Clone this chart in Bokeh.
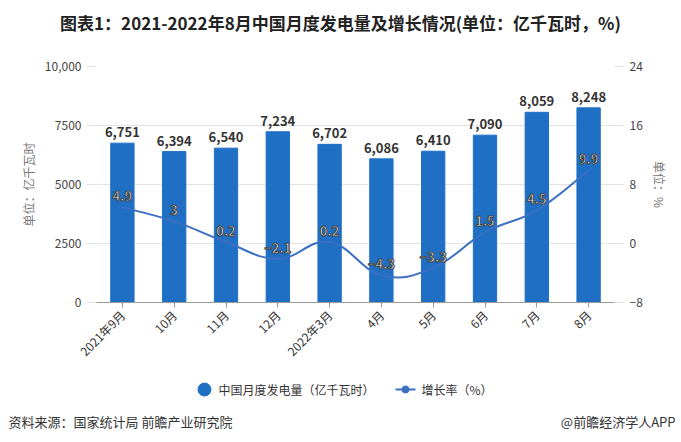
from bokeh.plotting import figure
from bokeh.models import (Range1d, LinearAxis, FixedTicker, ColumnDataSource)
from bokeh.core.properties import value
from bokeh.embed import file_html
from bokeh.resources import INLINE
import math

categories = ["2021年9月", "10月", "11月", "12月", "2022年3月", "4月", "5月", "6月", "7月", "8月"]
power = [6751, 6394, 6540, 7234, 6702, 6086, 6410, 7090, 8059, 8248]
growth = [4.9, 3, 0.2, -2.1, 0.2, -4.3, -3.3, 1.5, 4.5, 9.9]
left_ticks = [0, 2500, 5000, 7500, 10000]
right_ticks = [-8, 0, 8, 16, 24]
title_text = "图表1：2021-2022年8月中国月度发电量及增长情况(单位：亿千瓦时，%)"
legend_labels = ["中国月度发电量（亿千瓦时）", "增长率（%）"]
source_text = "资料来源：国家统计局 前瞻产业研究院"
brand_text = "@前瞻经济学人APP"

FONT = "Noto Sans CJK SC"
BAR = "#1f6fc5"
LINE = "#3b6fc2"
W = 681
H_TOP, H_MAIN, H_BOT = 44, 326, 72


def blank(h):
    f = figure(width=W, height=h, output_backend="svg", toolbar_location=None,
               x_range=Range1d(0, W), y_range=Range1d(h, 0),
               x_axis_type=None, y_axis_type=None,
               min_border=0, min_border_left=0, min_border_right=0,
               min_border_top=0, min_border_bottom=0)
    f.outline_line_color = None
    f.grid.visible = False
    return f


# ---- title strip
top = blank(H_TOP)
top.text(x=[340], y=[22], text=[title_text], text_align="center", text_baseline="middle",
         text_font=value(FONT), text_font_style="bold", text_font_size="17px", text_color="#222222")

# ---- main chart
p = figure(width=W, height=H_MAIN, output_backend="svg", toolbar_location=None,
           x_range=Range1d(-0.5, len(categories) - 0.5), y_range=Range1d(0, 10000),
           min_border_left=96, min_border_right=67, min_border_top=66 - H_TOP,
           min_border_bottom=H_TOP + H_MAIN - 302)
p.outline_line_color = None
p.extra_y_ranges = {"pct": Range1d(-8, 24)}

xs = list(range(len(categories)))
src = ColumnDataSource(dict(x=xs, power=power, growth=growth,
                            plab=[f"{v:,}" for v in power],
                            glab=[(f"{g:g}" if g >= 0 else "\u2212" + f"{-g:g}") for g in growth]))

p.vbar(x="x", top="power", width=0.45, color=BAR, source=src)

# smooth line via bezier segments through the data points
x0, y0, x1, y1, cx0, cy0, cx1, cy1 = [], [], [], [], [], [], [], []
s = 0.2
n = len(growth)
for i in range(n - 1):
    ya = growth[i - 1] if i > 0 else growth[i]
    yd = growth[i + 2] if i + 2 < n else growth[i + 1]
    x0.append(i); y0.append(growth[i]); x1.append(i + 1); y1.append(growth[i + 1])
    cx0.append(i + s * (2 if i > 0 else 1)); cy0.append(growth[i] + s * (growth[i + 1] - ya))
    cx1.append(i + 1 - s * (2 if i + 2 < n else 1)); cy1.append(growth[i + 1] - s * (yd - growth[i]))
p.bezier(x0=x0, y0=y0, x1=x1, y1=y1, cx0=cx0, cy0=cy0, cx1=cx1, cy1=cy1,
         line_color=LINE, line_width=2, y_range_name="pct")

p.text(x="x", y="power", text="plab", source=src, y_offset=-6, text_align="center",
       text_baseline="bottom", text_font=value(FONT), text_font_style="bold",
       text_font_size="13px", text_color="#333333")
p.text(x="x", y="growth", text="glab", source=src, y_offset=-11, text_align="center",
       text_baseline="middle", text_font=value(FONT), text_font_style="bold",
       text_font_size="13px", text_color="white", text_outline_color="#444444",
       y_range_name="pct")

p.xaxis.ticker = FixedTicker(ticks=xs)
p.xaxis.major_label_overrides = {i: c for i, c in enumerate(categories)}
p.xaxis.major_label_orientation = math.pi / 4
p.xaxis.axis_line_color = "#999999"
p.xaxis.major_tick_line_color = "#999999"
p.xaxis.major_tick_out = 5
p.xaxis.major_tick_in = 0
p.xaxis.minor_tick_line_color = None
p.xaxis.major_label_text_font = FONT
p.xaxis.major_label_text_font_size = "12px"
p.xaxis.major_label_text_color = "#333333"

p.yaxis.ticker = FixedTicker(ticks=left_ticks)
p.yaxis.major_label_overrides = {10000: "10,000"}
p.yaxis.axis_line_color = None
p.yaxis.major_tick_line_color = "#e3e3e3"
p.yaxis.major_tick_out = 10
p.yaxis.major_tick_in = 0
p.yaxis.minor_tick_line_color = None
p.yaxis.major_label_text_font = FONT
p.yaxis.major_label_text_font_size = "12px"
p.yaxis.major_label_text_color = "#444444"
p.yaxis.axis_label = "单位：亿千瓦时"
p.yaxis.axis_label_text_font = FONT
p.yaxis.axis_label_text_font_style = "normal"
p.yaxis.axis_label_text_font_size = "12px"
p.yaxis.axis_label_text_color = "#777777"

ra = LinearAxis(y_range_name="pct", ticker=FixedTicker(ticks=right_ticks))
ra.axis_line_color = None
ra.major_tick_line_color = "#e3e3e3"
ra.major_tick_out = 10
ra.major_tick_in = 0
ra.minor_tick_line_color = None
ra.major_label_text_font = FONT
ra.major_label_text_font_size = "12px"
ra.major_label_text_color = "#444444"
ra.axis_label = "单位：%"
ra.axis_label_text_font = FONT
ra.axis_label_text_font_style = "normal"
ra.axis_label_text_font_size = "12px"
ra.axis_label_text_color = "#777777"
p.add_layout(ra, "right")

p.xgrid.grid_line_color = None
p.ygrid.grid_line_color = "#e3e3e3"

# ---- legend + source strip
bot = blank(H_BOT)
ly = 389 - (H_TOP + H_MAIN)
fy = 421 - (H_TOP + H_MAIN)
bot.scatter(x=[204], y=[ly], marker="circle", size=13, color=BAR)
bot.line(x=[395, 415], y=[ly, ly], line_color=LINE, line_width=2)
bot.scatter(x=[405], y=[ly], marker="circle", size=7, color=LINE)
bot.text(x=[218, 421], y=[ly, ly], text=legend_labels, text_align="left", text_baseline="middle",
         text_font=value(FONT), text_font_size="12px", text_color="#333333")
bot.text(x=[8], y=[fy], text=[source_text], text_align="left", text_baseline="middle",
         text_font=value(FONT), text_font_size="13px", text_color="#333333")
bot.text(x=[675], y=[fy], text=[brand_text], text_align="right", text_baseline="middle",
         text_font=value(FONT), text_font_size="13px", text_color="#333333")

open("out.html", "w").write(file_html([top, p, bot], INLINE))
